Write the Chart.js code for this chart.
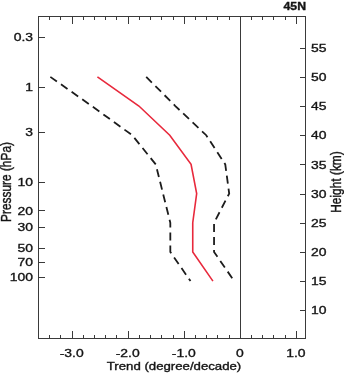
<!DOCTYPE html>
<html><head><meta charset="utf-8">
<script src="https://cdn.jsdelivr.net/npm/chart.js@4/dist/chart.umd.min.js"></script>
<style>html,body{margin:0;padding:0;background:#fff;}#wrap{width:344px;height:375px;}</style>
</head><body><div id="wrap"><canvas id="c" width="344" height="375"></canvas></div>
<script>
// ---- data ----
const heightsKm   = [50, 45, 40, 35, 30, 25, 20, 15];
const trendMean   = [-2.54, -1.80, -1.25, -0.87, -0.77, -0.84, -0.84, -0.48];
const trendLower  = [-3.38, -2.64, -1.92, -1.50, -1.37, -1.24, -1.24, -0.88];
const trendUpper  = [-1.67, -1.15, -0.60, -0.26, -0.19, -0.46, -0.46, -0.10];
const pressureTicks = [0.3, 1, 3, 10, 20, 30, 50, 70, 100];
const heightTicks   = [10, 15, 20, 25, 30, 35, 40, 45, 50, 55];
const trendTicks    = [-3, -2, -1, 0, 1];
const trendTickLabels = ['-3.0', '-2.0', '-1.0', '0', '1.0'];
const trendMinorTicks = [-3.4,-3.2,-3.0,-2.8,-2.6,-2.4,-2.2,-2.0,-1.8,-1.6,-1.4,-1.2,-1.0,-0.8,-0.6,-0.4,-0.2,0,0.2,0.4,0.6,0.8,1.0];
const panelLabel = '45N';
const xTitle = 'Trend (degree/decade)';
const pTitle = 'Pressure (hPa)';
const hTitle = 'Height (km)';

const FONT = '"Liberation Sans", Arial, Helvetica, sans-serif';
const TXT = '#141414';
const AX = '#3a3a3a';
const SX = 1.2;   // horizontal stretch of the reference lettering

function pts(xs){ return xs.map((v,i)=>({x:v, y:heightsKm[i]})); }

function txt(ctx, s, x, y, align, font, rot){
  ctx.save();
  ctx.translate(x, y);
  ctx.scale(SX, 1);
  if (rot) ctx.rotate(rot);
  ctx.font = font;
  ctx.textAlign = align;
  ctx.textBaseline = rot ? 'middle' : 'alphabetic';
  ctx.fillStyle = TXT;
  ctx.strokeStyle = TXT;
  ctx.lineWidth = 0.35;
  ctx.fillText(s, 0, 0);
  ctx.strokeText(s, 0, 0);
  ctx.restore();
}

const framePlugin = {
  id:'frame',
  afterDraw(chart){
    const {ctx, chartArea:a, scales} = chart;
    const x = scales.x, p = scales.p, h = scales.h;
    ctx.save();
    ctx.strokeStyle = AX; ctx.lineWidth = 1;
    ctx.strokeRect(a.left+0.5, a.top+0.5, a.right-a.left-1, a.bottom-a.top-1);
    const x0 = Math.round(x.getPixelForValue(0))+0.5;
    ctx.beginPath(); ctx.moveTo(x0, a.top); ctx.lineTo(x0, a.bottom); ctx.stroke();
    ctx.beginPath();
    trendMinorTicks.forEach(v=>{
      const major = Math.abs(v - Math.round(v)) < 1e-6;
      const len = major ? 8 : 4;
      const px = Math.round(x.getPixelForValue(v))+0.5;
      ctx.moveTo(px, a.bottom); ctx.lineTo(px, a.bottom-len);
      ctx.moveTo(px, a.top); ctx.lineTo(px, a.top+len);
    });
    pressureTicks.forEach(v=>{
      const py = Math.round(p.getPixelForValue(v))+0.5;
      ctx.moveTo(a.left, py); ctx.lineTo(a.left+7, py);
    });
    heightTicks.forEach(v=>{
      const py = Math.round(h.getPixelForValue(v))+0.5;
      ctx.moveTo(a.right, py); ctx.lineTo(a.right-6, py);
    });
    ctx.stroke();
    ctx.restore();

    const tf = '11.6px ' + FONT;
    const cap = 11.6*0.716/2;
    trendTicks.forEach((v,i)=>{
      txt(ctx, trendTickLabels[i], x.getPixelForValue(v), 352.5+cap, 'center', tf);
    });
    pressureTicks.forEach(v=>{
      txt(ctx, String(v), 33, p.getPixelForValue(v)+cap, 'right', tf);
    });
    heightTicks.forEach(v=>{
      txt(ctx, String(v), 311, h.getPixelForValue(v)+cap, 'left', tf);
    });
    txt(ctx, xTitle, (a.left+a.right)/2+2, 370, 'center', '11px ' + FONT);
    txt(ctx, pTitle, 7.5, 182, 'center', '11.9px ' + FONT, -Math.PI/2);
    txt(ctx, hTitle, 337.5, 182, 'center', '11.9px ' + FONT, -Math.PI/2);
    txt(ctx, panelLabel, a.right, 9.5, 'right', 'bold 10.2px ' + FONT);
  }
};

new Chart(document.getElementById('c'), {
  type:'scatter',
  data:{datasets:[
    {data:pts(trendLower), showLine:true, borderColor:'#1c1c1c', borderWidth:1.8, borderDash:[8,5], pointRadius:0, yAxisID:'h', xAxisID:'x'},
    {data:pts(trendUpper), showLine:true, borderColor:'#1c1c1c', borderWidth:1.8, borderDash:[8,5], pointRadius:0, yAxisID:'h', xAxisID:'x'},
    {data:pts(trendMean),  showLine:true, borderColor:'#e8293c', borderWidth:1.6, pointRadius:0, yAxisID:'h', xAxisID:'x'}
  ]},
  options:{
    responsive:false, animation:false, devicePixelRatio:1,
    layout:{padding:{top:16,left:0,right:0,bottom:0}},
    plugins:{legend:{display:false}, tooltip:{enabled:false}},
    scales:{
      x:{type:'linear', position:'bottom', min:-3.6, max:1.18,
         afterBuildTicks:s=>{s.ticks = trendTicks.map(v=>({value:v}));},
         ticks:{display:false}, grid:{display:false, drawTicks:false}, border:{display:false},
         afterFit:s=>{s.height = 36;}
      },
      p:{type:'logarithmic', position:'left', reverse:true, min:0.1792, max:450.8,
         afterBuildTicks:s=>{s.ticks = pressureTicks.map(v=>({value:v}));},
         ticks:{display:false}, grid:{display:false, drawTicks:false}, border:{display:false},
         afterFit:s=>{s.width = 38;}
      },
      h:{type:'linear', position:'right', min:5.08, max:60.43,
         afterBuildTicks:s=>{s.ticks = heightTicks.map(v=>({value:v}));},
         ticks:{display:false}, grid:{display:false, drawTicks:false}, border:{display:false},
         afterFit:s=>{s.width = 38;}
      }
    }
  },
  plugins:[framePlugin]
});
</script></body></html>
